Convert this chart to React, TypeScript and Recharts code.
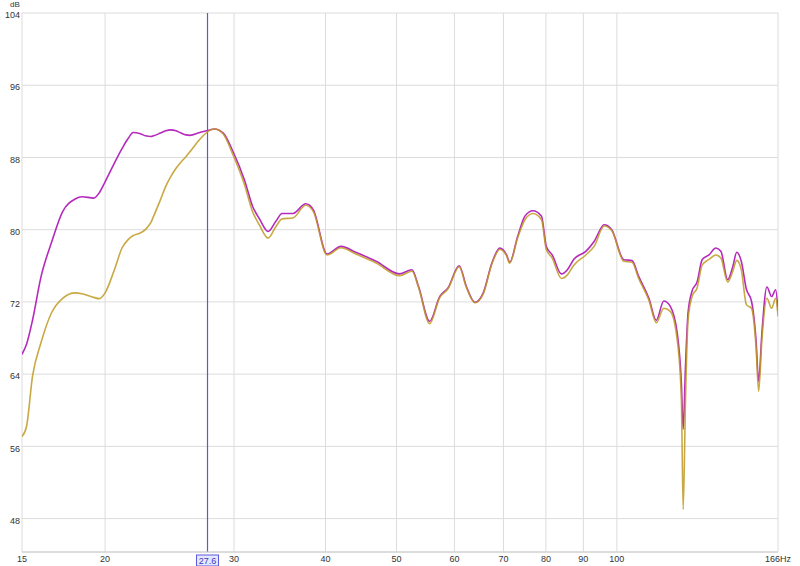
import { LineChart, Line, XAxis, YAxis, CartesianGrid, ReferenceLine } from 'recharts'

// frequency points (Hz) shared by both traces
const freqs = [
  15.4, 15.62, 15.92, 16.35, 16.9, 17.5, 18.2, 18.6, 19.3, 19.64, 20.0, 20.6, 21.1, 21.5, 21.85, 22.3, 22.7,
  23.1, 23.3, 23.8, 24.2, 24.6, 25.0, 25.4, 25.8, 26.1, 27.0, 27.8, 28.2, 29.0, 29.9, 31.0, 31.8,
  32.5, 33.4, 34.2, 34.9, 36.1, 37.6, 38.5, 40.2, 42.0, 44.0, 46.9, 50.5, 52.5, 53.6, 55.5, 57.3,
  58.8, 60.9, 62.3, 64.0, 65.7, 67.5, 69.2, 70.7, 71.4, 73.2, 74.9, 76.8, 78.9, 80.1, 81.6, 84.0,
  85.6, 87.4, 90.7, 93.1, 96.1, 98.4, 102.2, 104.9, 107.1, 110.6, 113.2, 115.9, 118.3, 120.9, 122.5,
  123.2, 124.1, 125.1, 126.7, 128.7, 130.8, 133.6, 136.5, 138.7, 141.7, 144.0, 145.8, 147.9, 150.3,
  152.7, 154.9, 156.2, 157.8, 160.3, 162.7, 164.8, 166,
]

// magenta trace (dB)
const magenta = [
  66.2, 67.3, 70.0, 74.8, 78.6, 82.0, 83.4, 83.65, 83.5, 84.1, 85.3, 87.4, 89.0, 90.1, 90.76, 90.65, 90.4,
  90.32, 90.4, 90.7, 90.95, 91.06, 90.95, 90.7, 90.5, 90.45, 90.8, 91.05, 91.15, 90.7, 88.66, 85.5, 82.6,
  81.2, 79.8, 80.9, 81.8, 81.8, 82.87, 82.2, 77.3, 78.15, 77.5, 76.5, 75.1, 75.57, 73.7, 69.85, 72.6,
  73.55, 76.0, 73.7, 71.95, 73.0, 76.3, 77.97, 77.2, 76.4, 79.25, 81.5, 82.1, 81.5, 78.15, 77.2, 75.1,
  75.57, 76.75, 77.6, 78.7, 80.55, 80.0, 76.68, 76.57, 74.83, 72.4, 69.96, 72.1, 71.5, 68.56, 63.0,
  57.9, 64.9, 70.8, 73.2, 74.2, 76.7, 77.2, 77.97, 77.6, 74.46, 75.9, 77.5, 76.5, 73.4,
  72.1, 67.8, 63.2, 68.56, 73.65, 72.6, 73.35, 71.0,
]

// gold trace (dB)
const gold = [
  57.1, 58.2, 63.8, 67.5, 70.8, 72.4, 73.0, 72.9, 72.5, 72.36, 73.0, 75.6, 78.0, 78.9, 79.35, 79.6, 80.0,
  80.8, 81.5, 83.3, 84.8, 85.9, 86.8, 87.5, 88.1, 88.6, 90.1, 91.0, 91.15, 90.6, 88.3, 85.0, 82.0,
  80.5, 79.07, 80.3, 81.2, 81.3, 82.7, 82.0, 77.2, 78.0, 77.3, 76.3, 74.9, 75.4, 73.6, 69.6, 72.5,
  73.45, 75.9, 73.6, 71.9, 72.9, 76.2, 77.8, 77.1, 76.3, 79.1, 81.1, 81.8, 81.1, 77.8, 76.86, 74.6,
  75.0, 76.1, 77.2, 78.15, 80.4, 79.9, 76.5, 76.4, 74.6, 72.2, 69.7, 71.3, 70.96, 67.8, 61.2,
  49.0, 61.2, 70.0, 72.6, 73.55, 76.1, 76.7, 77.2, 76.86, 74.2, 75.4, 76.6, 75.57, 71.7,
  71.3, 67.1, 62.1, 67.8, 72.4, 71.3, 72.4, 70.4,
]

const xTicks = [15.4, 20, 30, 40, 50, 60, 70, 80, 90, 100, 166]
const xTickLabels = ['15', '20', '30', '40', '50', '60', '70', '80', '90', '100', '166Hz']
const yTicks = [48, 56, 64, 72, 80, 88, 96, 104]
const cursorFreq = 27.6

const data = freqs.map((f, i) => ({ f, magenta: magenta[i], gold: gold[i] }))

const font = '"Liberation Sans", Arial, sans-serif'

const CursorLabel = ({ viewBox }: any) => {
  if (!viewBox) return null
  const x = viewBox.x
  const y = viewBox.y + viewBox.height
  return (
    <g>
      <rect x={x - 11} y={y + 3} width={22} height={11} fill="#e6e6ff" stroke="#5a5ae0" strokeWidth={1} />
      <text x={x} y={y + 12} textAnchor="middle" fontSize={9} fontFamily={font} fill="#3a3ac0">
        {String(cursorFreq)}
      </text>
    </g>
  )
}

export default function App() {
  return (
    <div style={{ position: 'absolute', left: 0, top: 0, width: 800, height: 566, background: '#fff' }}>
      <div style={{ position: 'absolute', left: 10, top: 0, fontSize: 8, lineHeight: '9px', fontFamily: font, color: '#333' }}>dB</div>
      <LineChart width={800} height={566} data={data} margin={{ top: 13, right: 22, bottom: 0, left: 0 }}>
        <CartesianGrid stroke="#dcdcdc" strokeWidth={1} />
        <XAxis
          dataKey="f"
          type="number"
          scale="log"
          domain={[15.4, 166]}
          allowDataOverflow
          ticks={xTicks}
          tickFormatter={(v: number) => xTickLabels[xTicks.indexOf(v)] ?? ''}
          interval={0}
          height={14}
          tickSize={0}
          tickMargin={4}
          axisLine={{ stroke: '#cccccc' }}
          tick={{ fontSize: 9, fill: '#333', fontFamily: font }}
        />
        <YAxis
          type="number"
          domain={[44.3, 104]}
          allowDataOverflow
          ticks={yTicks}
          interval={0}
          width={22}
          tickSize={0}
          tickMargin={2}
          axisLine={false}
          tick={{ fontSize: 9, fill: '#333', fontFamily: font, dy: 2 }}
        />
        <ReferenceLine x={cursorFreq} stroke="#5a5ad8" strokeWidth={1.2} label={<CursorLabel />} ifOverflow="visible" />
        <Line dataKey="magenta" type="monotone" stroke="#b52abd" strokeWidth={1.6} dot={false} isAnimationActive={false} />
        <Line dataKey="gold" type="monotone" stroke="#c09a22" strokeWidth={1.6} strokeOpacity={0.85} dot={false} isAnimationActive={false} />
      </LineChart>
    </div>
  )
}
